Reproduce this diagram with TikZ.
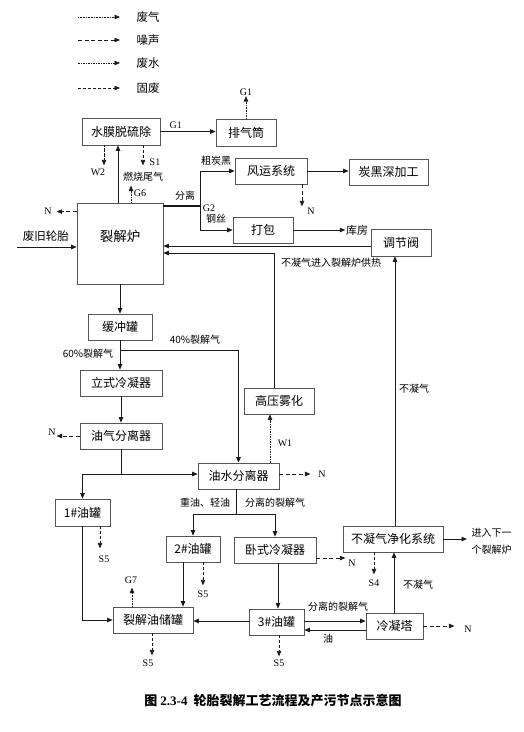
\documentclass[tikz,border=0pt]{standalone}
\usepackage{fontspec}
\setmainfont{Noto Sans CJK SC}
\newfontfamily\lat{Liberation Serif}
\usetikzlibrary{arrows.meta}
\definecolor{cLine}{HTML}{1A1A1A}
\definecolor{cBox}{HTML}{555555}

\begin{document}
\begin{tikzpicture}[x=1pt, y=-1pt,
  box/.style={draw=cBox, line width=0.8pt, fill=white, inner sep=0pt,
              minimum height=26, font=\fontsize{12}{14}\selectfont},
  lbl/.style={font=\fontsize{10}{12}\selectfont, inner sep=0.5pt},
  tagl/.style={font=\lat\fontsize{10}{12}\selectfont, inner sep=0.5pt},
  flow/.style={cLine, line width=0.7pt},
  arr/.style={flow, -{Triangle[length=5.5pt, width=4.5pt]}},
  gasline/.style={arr, dash pattern=on 0.8pt off 0.8pt},
  noiseline/.style={arr, dash pattern=on 4pt off 2.5pt},
  waterline/.style={arr, dash pattern=on 1.6pt off 0.9pt},
  wasteline/.style={arr, dash pattern=on 3pt off 2pt}]
\useasboundingbox (0,0) rectangle (523,732);

% legend
\foreach \y/\s/\t in {17/gasline/废气, 40/noiseline/噪声, 63/waterline/废水, 88/wasteline/固废} {
  \coordinate (l\y) at (78,\y);
  \node[lbl, font=\fontsize{11.5}{13}\selectfont, anchor=west] (lt\y) at (136,\y) {\t};
  \draw[\s, shorten >=16pt] (l\y) -- (lt\y.west);
}

% boxes
\node[box, minimum width=78, minimum height=27] (desulf) at (121,131.5) {水膜脱硫除};
\node[box, minimum width=60, minimum height=27] (stack) at (246,132.5) {排气筒};
\node[box, minimum width=86, minimum height=81, text depth=16pt,
      font=\fontsize{13.5}{15}\selectfont] (furnace) at (120,243.5) {裂解炉};
\node[box, minimum width=72] (wind) at (271,171) {风运系统};
\node[box, minimum width=79] (carbon) at (388.5,172) {炭黑深加工};
\node[box, minimum width=60] (pack) at (263,230) {打包};
\node[box, minimum width=60, minimum height=27] (valve) at (401,242.5) {调节阀};
\node[box, minimum width=64] (buffer) at (120,327) {缓冲罐};
\node[box, minimum width=82] (vcond) at (121,383) {立式冷凝器};
\node[box, minimum width=82] (ogsep) at (121,436) {油气分离器};
\node[box, minimum width=70] (atom) at (279,401) {高压雾化};
\node[box, minimum width=81] (owsep) at (238.5,476) {油水分离器};
\node[box, minimum width=55, minimum height=27] (tank1) at (82.5,512.5) {1\#油罐};
\node[box, minimum width=54] (tank2) at (193,549) {2\#油罐};
\node[box, minimum width=82] (hcond) at (275,550) {卧式冷凝器};
\node[box, minimum width=100] (purify) at (393,539) {不凝气净化系统};
\node[box, minimum width=80] (store) at (153,620) {裂解油储罐};
\node[box, minimum width=55] (tank3) at (276.5,622) {3\#油罐};
\node[box, minimum width=57] (tower) at (394.5,626) {冷凝塔};

% labels
\node[tagl] (g1) at (246,92) {G1};
\node[tagl] (w2) at (98,172) {W2};
\node[tagl] (s1) at (155,162) {S1};
\node[lbl] (tail) at (143,177) {燃烧尾气};
\node[tagl] (g6) at (140,193) {G6};
\node[tagl] (nf) at (48,211) {N};
\node[lbl, font=\fontsize{11.5}{13}\selectfont] (tyre) at (46,236) {废旧轮胎};
\node[lbl] (sep) at (185,196) {分离};
\node[lbl] (coarse) at (216,161) {粗炭黑};
\node[tagl] (g2) at (209,208) {G2};
\node[lbl] (wire) at (216,219) {钢丝};
\node[tagl] (nw) at (311,211) {N};
\node[lbl, font=\fontsize{11}{13}\selectfont] (ware) at (357,230) {库房};
\node[lbl] (heat) at (331,263) {不凝气进入裂解炉供热};
\node[lbl] (ncg1) at (414,389) {不凝气};
\node[lbl] (p60) at (88,354) {60\%裂解气};
\node[lbl] (p40) at (195,340) {40\%裂解气};
\node[tagl] (no) at (52,432) {N};
\node[tagl] (w1) at (285,443) {W1};
\node[tagl] (now) at (322,474) {N};
\node[lbl] (oils) at (205,503) {重油、轻油};
\node[lbl] (sgas1) at (275,503) {分离的裂解气};
\node[tagl] (s5a) at (104,559) {S5};
\node[tagl] (s5b) at (203,594) {S5};
\node[tagl] (g7) at (131,580) {G7};
\node[tagl] (s5c) at (148,663) {S5};
\node[tagl] (nh) at (352,563) {N};
\node[tagl] (s5d) at (279,663) {S5};
\node[lbl] (sgas2) at (338,607) {分离的裂解气};
\node[lbl] (oil) at (328,639) {油};
\node[lbl] (ncg2) at (418,585) {不凝气};
\node[tagl] (nt) at (468,629) {N};
\node[tagl] (s4) at (374,583) {S4};
\node[lbl, align=left, anchor=west] (next) at (471,541) {进入下一\\[5pt]个裂解炉};
\node[font=\bfseries\fontsize{13}{15}\selectfont] (cap) at (273,701)
  {图 {\lat\bfseries 2.3-4}\ \ 轮胎裂解工艺流程及产污节点示意图};

% top part
\draw[arr] (desulf.east) -- (desulf.east -| stack.west) node[tagl, pos=0.28, above=2pt] {G1};
\draw[gasline] (stack) -- (g1);
\draw[arr] ([xshift=-2pt]furnace.north) -- ([xshift=-2pt]furnace.north |- desulf.south);
\draw[waterline] ([xshift=-17pt]desulf.south) -- ++(0,20);
\draw[wasteline] ([xshift=22pt]desulf.south) -- ++(0,20);
\draw[gasline] ([xshift=11pt]furnace.north) -- ++(0,-17);
\draw[noiseline] ([yshift=-9pt]furnace.north west) -- ++(-20,0);
\coordinate (tin) at (17,247);
\draw[arr] (tin) -- (tin -| furnace.west);
\coordinate (sp) at (200,206);
\draw[flow, line width=1.5pt] (furnace.east |- sp) -- (sp);
\draw[arr] (sp) |- (wind.west);
\draw[arr] (sp) |- (pack.west);
\draw[arr] (wind.east) -- (wind.east -| carbon.west);
\draw[noiseline] ([xshift=31pt]wind.south) -- ++(0,22);
\draw[arr] (pack) -- (ware.west);
\draw[arr] ([yshift=-3.5pt]valve.west) -- ([yshift=-3.5pt]valve.west -| furnace.east);
\draw[arr] ([xshift=-5pt]atom.north) |- ([yshift=-9.5pt]furnace.east);
\draw[arr] ([xshift=2pt]purify.north) -- ([xshift=2pt]purify.north |- valve.south);

% condensing line
\draw[arr] (furnace.south) -- (buffer.north);
\draw[arr] (buffer.south) -- (buffer.south |- vcond.north);
\coordinate (b40) at (120,350);
\draw[arr] (b40) -| (owsep.north);
\draw[arr] (vcond) -- (ogsep);
\draw[noiseline] (ogsep.west) -- ++(-23,0);
\coordinate (j1) at (121,474);
\draw[flow] (ogsep.south) -- (j1);
\draw[arr] (tank1.north |- j1) -- (j1 -| owsep.west);
\draw[arr] (tank1.north |- j1) -- (tank1.north);
\draw[waterline] ([xshift=31.5pt]owsep.north) -- ([xshift=31.5pt]owsep.north |- atom.south);
\draw[noiseline] ([yshift=2pt]owsep.east) -- ++(31,0);
\coordinate (j2) at (236,514);
\draw[flow] ([xshift=-2.5pt]owsep.south) -- (j2);
\draw[arr] (j2) -| (tank2.north);
\draw[arr] (j2) -| (hcond.north);

% tanks
\draw[arr] (tank1.south) |- (store.west);
\draw[wasteline] ([xshift=17.5pt]tank1.south) -- ++(0,22);
\draw[arr] ([xshift=-10pt]tank2.south) -- ([xshift=-10pt]tank2.south |- store.north);
\draw[wasteline] ([xshift=10pt]tank2.south) -- ++(0,23);
\draw[gasline] ([xshift=-21pt]store.north) -- ++(0,-19);
\draw[wasteline] ([xshift=-1pt]store.south) -- ++(0,22);
\draw[arr] ([xshift=3pt]hcond.south) -- ([xshift=3pt]hcond.south |- tank3.north);
\draw[noiseline] ([yshift=-8pt]hcond.east) -- ++(29,0);
\draw[arr] ([yshift=1pt]tank3.west) -- ([yshift=1pt]tank3.west -| store.east);
\draw[wasteline] ([xshift=2.5pt]tank3.south) -- ++(0,21);
\draw[arr] ([yshift=1pt]tank3.east) -- ([yshift=1pt]tank3.east -| tower.west);
\draw[arr] ([yshift=-4pt]tower.west) -- ([yshift=-4pt]tower.west -| tank3.east);
\draw[arr] ([xshift=-0.5pt]tower.north) -- ([xshift=-0.5pt]tower.north |- purify.south);
\draw[noiseline] (tower.east) -- ++(31,0);
\draw[arr, shorten >=4pt] (purify.east) -- (purify.east -| next.west);
\draw[wasteline] ([xshift=-19pt]purify.south) -- ++(0,22);
\end{tikzpicture}
\end{document}
